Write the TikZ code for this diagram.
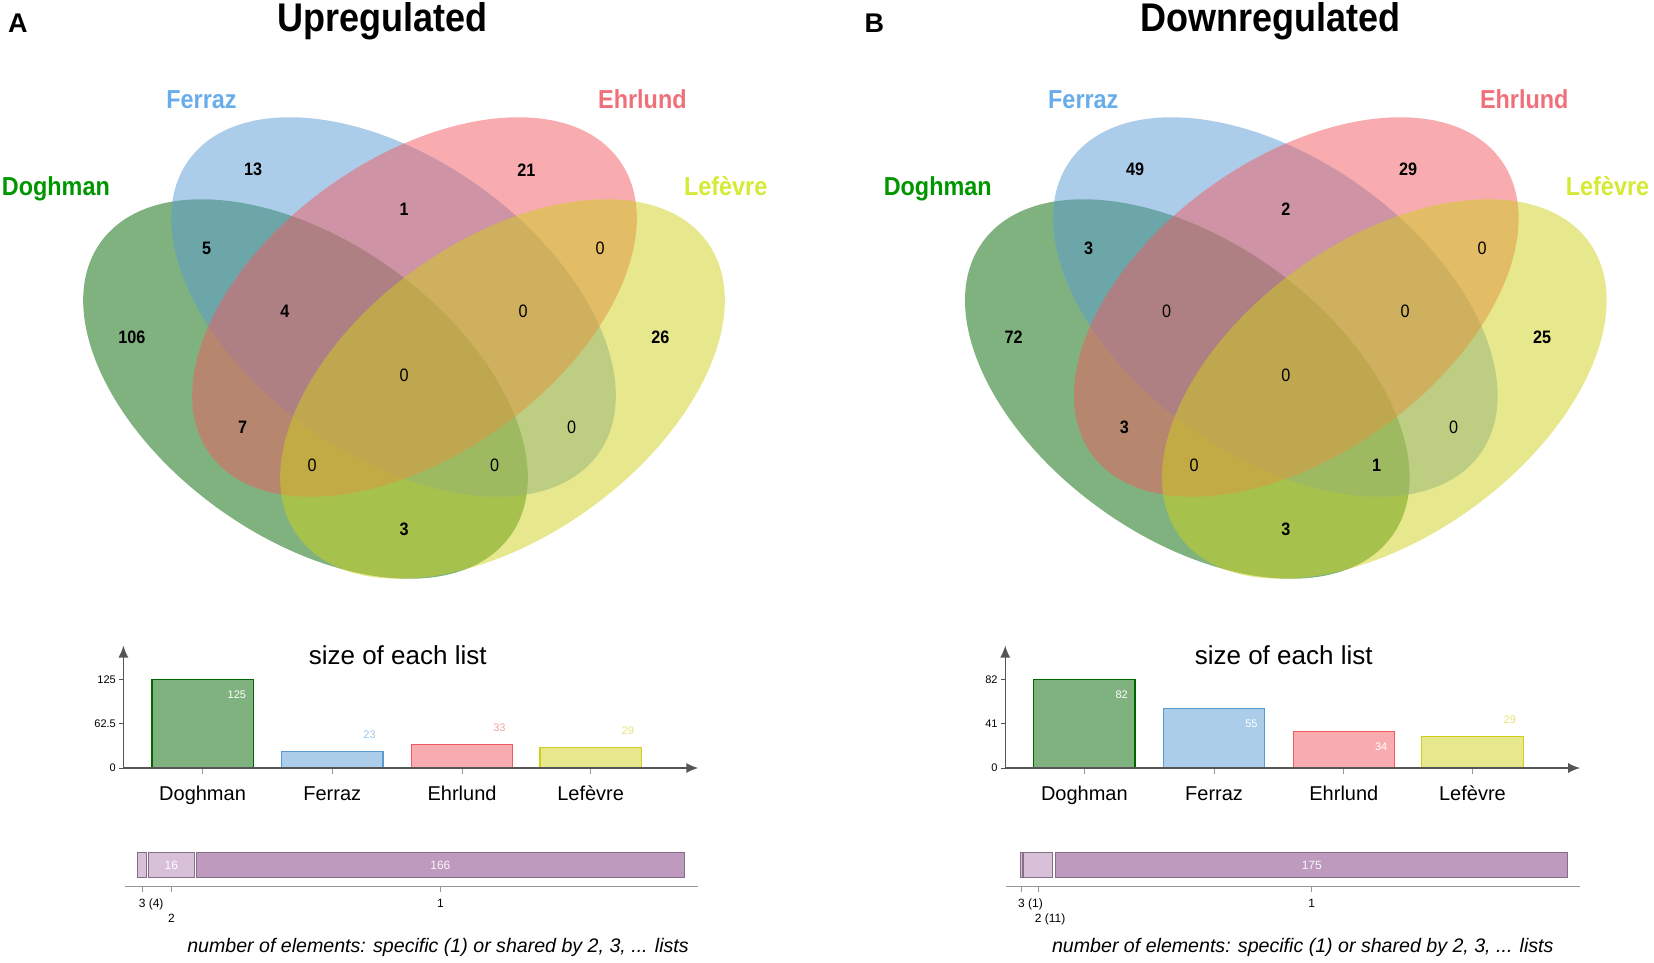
\documentclass[tikz,border=0pt]{standalone}
\usepackage{fontspec}
\setmainfont{Liberation Sans}
\newfontfamily\vennfont{Liberation Sans}[FakeStretch=0.9]
\usepackage{tikz}
\usetikzlibrary{arrows.meta}
\usepackage{xcolor}

\definecolor{dogbase}{HTML}{006600}
\definecolor{ferbase}{HTML}{5A9BD4}
\definecolor{ehrbase}{HTML}{F15A60}
\definecolor{lefbase}{HTML}{CFCF1B}
\definecolor{dogtext}{RGB}{0,150,0}
\definecolor{fertext}{RGB}{105,172,235}
\definecolor{ehrtext}{RGB}{240,112,122}
\definecolor{leftext}{RGB}{212,234,52}
\definecolor{ferval}{RGB}{160,198,235}
\definecolor{ehrval}{RGB}{245,160,168}
\definecolor{lefval}{RGB}{228,228,120}
\definecolor{axisgrey}{RGB}{85,85,85}
\definecolor{ticklight}{RGB}{150,150,150}
\definecolor{stripdark}{RGB}{190,155,190}
\definecolor{striplight}{RGB}{216,192,216}
\definecolor{stripedge}{RGB}{135,110,135}

\newcommand{\fsz}[1]{\fontsize{#1}{#1}\selectfont}

\tikzset{
  vennset/.style={fill=#1, fill opacity=0.5},
  setname/.style={font=\vennfont\bfseries\fsz{26}, anchor=base, text=#1, inner sep=0pt},
  region/.style={font=\vennfont\fsz{18}, inner sep=0pt},
  paneltitle/.style={font=\vennfont\bfseries\fsz{40}, anchor=base, inner sep=0pt},
  panelletter/.style={font=\bfseries\fsz{27}, anchor=base, inner sep=0pt},
  charttitle/.style={font=\fsz{26}, anchor=base, inner sep=0pt},
  sizebar/.style={fill=#1!50, draw=#1, line width=1.2pt},
  barval/.style={font=\fsz{11}, anchor=east, inner sep=0pt},
  ticklab/.style={font=\fsz{11}, anchor=east, inner sep=0pt},
  catname/.style={font=\fsz{20}, anchor=base, inner sep=0pt},
  axisline/.style={draw=axisgrey, line width=1.4pt, -{Latex[length=12pt, width=10pt]}},
  stripbar/.style={fill=#1, draw=stripedge, line width=0.9pt},
  striplab/.style={font=\fsz{12}, inner sep=0pt},
  caption/.style={font=\itshape\fsz{19.6}, anchor=base, inner sep=0pt}
}

\begin{document}
\begin{tikzpicture}[x=1pt, y=-1pt]
  \useasboundingbox (0,0) rectangle (1654,963);

  % panel letters and titles
  \node[panelletter] (letA) at (17.9,32.7) {A};
  \node[panelletter] (letB) at (874.4,32.7) {B};
  \node[paneltitle] (titA) at (382.9,32) {Upregulated};
  \node[paneltitle] (titB) at (1270.5,32) {Downregulated};

  % the two four-set Venn diagrams
  \foreach \s in {0,881.8}{
    \begin{scope}[xshift=\s]
      \fill[vennset=dogbase, rotate around={-35.6:(305.5,389)}] (305.5,389) ellipse [x radius=252, y radius=148];
      \fill[vennset=ferbase, rotate around={-35.6:(393.5,307)}] (393.5,307) ellipse [x radius=252, y radius=148];
      \fill[vennset=ehrbase, rotate around={35.6:(414.5,307)}] (414.5,307) ellipse [x radius=252, y radius=148];
      \fill[vennset=lefbase, rotate around={35.6:(502.5,389)}] (502.5,389) ellipse [x radius=252, y radius=148];
    \end{scope}
  }

  % set names
  \foreach \s/\p in {0/up,881.8/down}{
    \node[setname=fertext] (\p fer) at ({201.5+\s},108.6) {Ferraz};
    \node[setname=ehrtext] (\p ehr) at ({642.4+\s},108.6) {Ehrlund};
    \node[setname=dogtext] (\p dog) at ({55.9+\s},195) {Doghman};
    \node[setname=leftext] (\p lef) at ({725.7+\s},195) {Lefèvre};
  }

  % counts in each region: x / y / up / down
  \foreach \x/\y/\u/\d [count=\i] in {253.2/169.8/13/49, 526.3/169.8/21/29, 206.7/247.9/5/3,
      404/208.9/1/2, 600.2/247.9/0/0, 131.9/337.5/106/72, 284.8/311.2/4/0, 523.2/311.2/0/0,
      660.3/337.5/26/25, 404/375.5/0/0, 242.6/427.2/7/3, 571.7/427.2/0/0, 312.2/465.2/0/0,
      494.7/465.2/0/1, 404/529.5/3/3}{
    \node[region] (up\i) at (\x,\y) {\ifnum\u=0 0\else\bfseries\u\fi};
    \node[region] (down\i) at ({\x+881.8},\y) {\ifnum\d=0 0\else\bfseries\d\fi};
  }

  % ---------- size of each list, panel A ----------
  \coordinate (upO) at (123.4,768);
  \coordinate (upYtop) at (123.4,645.5);
  \coordinate (upXend) at (698.3,768);
  \node[charttitle] (upchart) at (397.7,664.5) {size of each list};
  \foreach \c/\xl/\v/\lc/\dy/\nm [count=\k] in {dogbase/151.9/125/white/15.5/Doghman,
      ferbase/281.6/23/ferval/-16.5/Ferraz, ehrbase/411.4/33/ehrval/-16.5/Ehrlund,
      lefbase/540/29/lefval/-16.5/Lefèvre}{
    \draw[sizebar=\c] (\xl,768) rectangle ({\xl+101.3},{768-\v*0.7096});
    \node[barval, text=\lc] (upv\k) at ({\xl+94.3},{768-\v*0.7096+\dy}) {\v};
    \draw[ticklight, line width=0.8pt] ({\xl+50.65},768) -- ++(0,6);
    \node[catname] (upc\k) at ({\xl+50.65},800.6) {\nm};
  }
  \foreach \y/\t [count=\k] in {768/0, 723.6/62.5, 679.3/125}{
    \draw[axisgrey, line width=0.8pt] (119,\y) -- (123.4,\y);
    \node[ticklab] (upy\k) at (116,\y) {\t};
  }
  \draw[axisline] (upO) -- (upYtop);
  \draw[axisline] (upO) -- (upXend);

  % shared elements strip, panel A
  \draw[stripbar=striplight] (137.1,852.3) rectangle (146.6,877.6);
  \draw[stripbar=striplight] (148.7,852.3) rectangle (194.1,877.6);
  \draw[stripbar=stripdark] (196.2,852.3) rectangle (684.6,877.6);
  \node[striplab, text=white] (ups2) at (171.4,865) {16};
  \node[striplab, text=white!92!stripdark] (ups1) at (440.4,865) {166};
  \coordinate (upSa) at (124.5,886);
  \coordinate (upSb) at (698.3,886);
  \draw[ticklight, line width=1pt] (upSa) -- (upSb);
  \foreach \x in {141.9,171.4,440.4}
    \draw[ticklight, line width=0.8pt] (\x,886) -- ++(0,6);
  \node[striplab, anchor=base west] (upl3) at (138.6,907) {3 (4)};
  \node[striplab, anchor=base] (upl2) at (171.4,922) {2};
  \node[striplab, anchor=base] (upl1) at (440.4,907) {1};
  \node[caption] (upcap) at (438,952.5) {number of elements: specific (1) or shared by 2, 3, ... lists};

  % ---------- size of each list, panel B ----------
  \begin{scope}[xshift=881.8]
    \coordinate (dnO) at (123.4,768);
    \coordinate (dnYtop) at (123.4,645.5);
    \coordinate (dnXend) at (698.3,768);
    \node[charttitle] (dnchart) at (401.9,664.5) {size of each list};
    \foreach \c/\xl/\v/\lc/\dy/\nm [count=\k] in {dogbase/151.9/82/white/15.5/Doghman,
        ferbase/281.6/55/white/15.5/Ferraz, ehrbase/411.4/34/white/15.5/Ehrlund,
        lefbase/540/29/lefval/-16.5/Lefèvre}{
      \draw[sizebar=\c] (\xl,768) rectangle ({\xl+101.3},{768-\v*1.0817});
      \node[barval, text=\lc] (dnv\k) at ({\xl+94.3},{768-\v*1.0817+\dy}) {\v};
      \draw[ticklight, line width=0.8pt] ({\xl+50.65},768) -- ++(0,6);
      \node[catname] (dnc\k) at ({\xl+50.65},800.6) {\nm};
    }
    \foreach \y/\t [count=\k] in {768/0, 723.6/41, 679.3/82}{
      \draw[axisgrey, line width=0.8pt] (119,\y) -- (123.4,\y);
      \node[ticklab] (dny\k) at (116,\y) {\t};
    }
    \draw[axisline] (dnO) -- (dnYtop);
    \draw[axisline] (dnO) -- (dnXend);

    % shared elements strip, panel B
    \draw[stripbar=striplight] (138.3,852.3) rectangle (140.6,877.6);
    \draw[stripbar=striplight] (141.4,852.3) rectangle (170.9,877.6);
    \draw[stripbar=stripdark] (174.1,852.3) rectangle (686,877.6);
    \node[striplab, text=white!92!stripdark] (dns1) at (430,865) {175};
    \coordinate (dnSa) at (124.5,886);
    \coordinate (dnSb) at (698.3,886);
    \draw[ticklight, line width=1pt] (dnSa) -- (dnSb);
    \foreach \x in {139.4,156.2,430}
      \draw[ticklight, line width=0.8pt] (\x,886) -- ++(0,6);
    \node[striplab, anchor=base west] (dnl3) at (136.1,907) {3 (1)};
    \node[striplab, anchor=base west] (dnl2) at (152.9,922) {2 (11)};
    \node[striplab, anchor=base] (dnl1) at (430,907) {1};
    \node[caption] (dncap) at (421,952.5) {number of elements: specific (1) or shared by 2, 3, ... lists};
  \end{scope}
\end{tikzpicture}
\end{document}
